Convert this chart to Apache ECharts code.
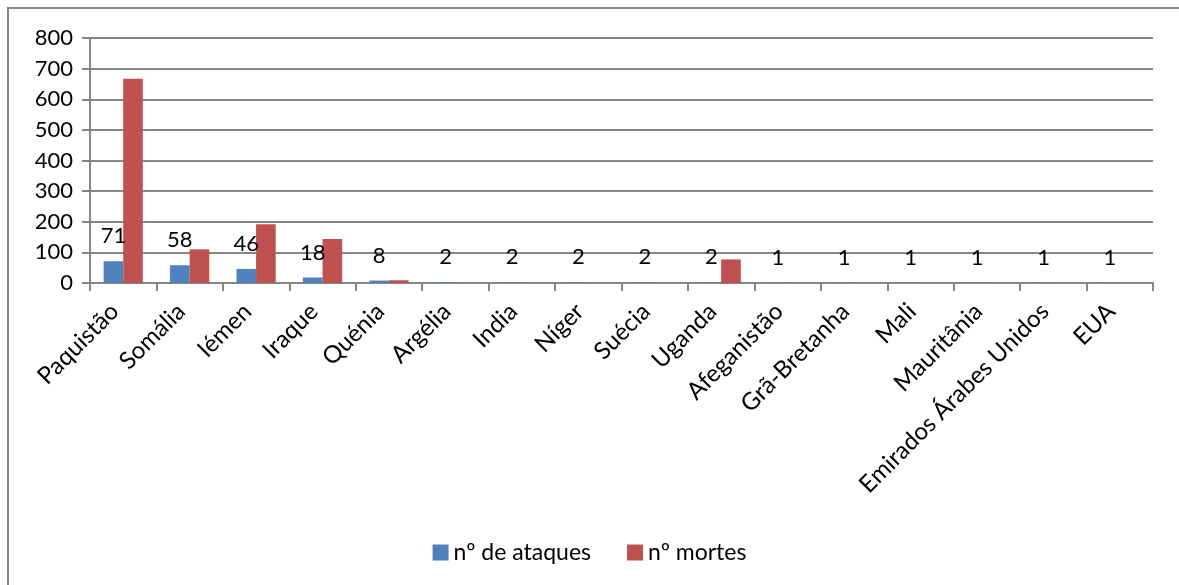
<!DOCTYPE html>
<html>
<head>
<meta charset="utf-8">
<script src="https://cdn.jsdelivr.net/npm/echarts@6/dist/echarts.min.js"></script>
<style>
  html, body { margin: 0; padding: 0; background: #fff; }
  #chart { width: 1179px; height: 585px; }
</style>
</head>
<body>
<div id="chart"></div>
<script>
// dados
const paises = ['Paquistão', 'Somália', 'Iémen', 'Iraque', 'Quénia', 'Argélia', 'India', 'Níger',
  'Suécia', 'Uganda', 'Afeganistão', 'Grã-Bretanha', 'Mali', 'Mauritânia', 'Emirados Árabes Unidos', 'EUA']
const ataques = [71, 58, 46, 18, 8, 2, 2, 2, 2, 2, 1, 1, 1, 1, 1, 1]
const mortes = [667, 110, 192, 144, 9, 0, 0, 0, 0, 77, 0, 0, 0, 0, 0, 0]
const yTicks = [0, 100, 200, 300, 400, 500, 600, 700, 800]

const font = 'Lato, "Open Sans", sans-serif'
const chart = echarts.init(document.getElementById('chart'))

const option = {
  backgroundColor: '#fff',
  animation: false,
  textStyle: { fontFamily: font },
  graphic: [
    {
      type: 'rect',
      shape: { x: 8, y: 8, width: 1300, height: 700 },
      style: { fill: 'none', stroke: '#868686', lineWidth: 2 },
      silent: true
    }
  ],
  grid: { left: 90, right: 26, top: 38, bottom: 302 },
  legend: {
    top: 536,
    left: 'center',
    itemWidth: 16,
    itemHeight: 16,
    itemGap: 36,
    icon: 'rect',
    textStyle: { fontSize: 23, color: '#000', fontFamily: font },
    data: ['nº de ataques', 'nº mortes']
  },
  xAxis: {
    type: 'category',
    data: paises,
    axisLine: { lineStyle: { color: '#868686', width: 2 } },
    axisTick: { show: true, length: 8, lineStyle: { color: '#868686', width: 2 } },
    axisLabel: {
      rotate: 45, fontSize: 24, color: '#000', margin: 16, padding: [0, 12, 0, 0],
      interval: 0, fontFamily: font
    }
  },
  yAxis: {
    type: 'value',
    min: yTicks[0],
    max: yTicks[yTicks.length - 1],
    interval: 100,
    axisLine: { show: true, lineStyle: { color: '#868686', width: 2 } },
    axisTick: { show: true, length: 8, lineStyle: { color: '#868686', width: 2 } },
    splitLine: { lineStyle: { color: '#868686', width: 2 } },
    axisLabel: { fontSize: 22, color: '#000', margin: 17, fontFamily: font }
  },
  series: [
    {
      name: 'nº de ataques',
      type: 'bar',
      data: ataques,
      barGap: '0%',
      barCategoryGap: '41%',
      itemStyle: { color: '#4F81BD' },
      label: { show: true, position: 'top', distance: 14, fontSize: 22, color: '#000', fontFamily: font }
    },
    {
      name: 'nº mortes',
      type: 'bar',
      data: mortes,
      barGap: '0%',
      barCategoryGap: '41%',
      itemStyle: { color: '#C0504D' }
    }
  ]
}
chart.setOption(option)
</script>
</body>
</html>
